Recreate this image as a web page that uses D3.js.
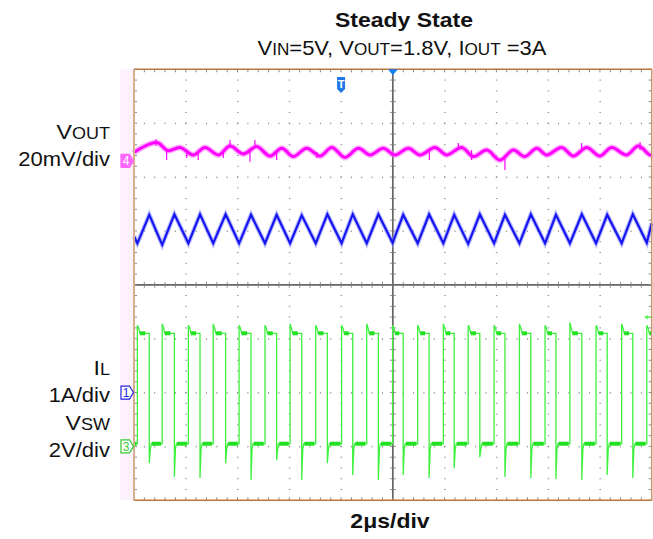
<!DOCTYPE html>
<html>
<head>
<meta charset="utf-8">
<script src="https://cdn.jsdelivr.net/npm/d3@7/dist/d3.min.js"></script>
<style>
  body { margin: 0; background: #fff; }
  text { font-family: "Liberation Sans", Arial, sans-serif; fill: #111; }
</style>
</head>
<body>
<div id="chart"></div>
<script>
// time in us (2us/div, trigger at centre), levels per channel units
var riseT = [-9.87, -8.91, -7.90, -6.94, -5.94, -4.94, -3.97, -2.98, -1.98, -1.01, -0.01,
             0.96, 1.95, 2.91, 3.91, 4.89, 5.88, 6.84, 7.85, 8.84, 9.81];
var fallT = [-9.41, -8.44, -7.45, -6.46, -5.48, -4.49, -3.52, -2.53, -1.55, -0.56,
             0.40, 1.40, 2.37, 3.36, 4.33, 5.33, 6.30, 7.30, 8.28, 9.27];

// V_SW (V)
var swHigh = 4.2, swLow = 0.1;
var swOvershoot = [4.5, 4.55, 4.5, 4.55, 4.5, 4.5, 4.55, 4.5, 4.5, 4.55, 4.5,
                   4.5, 4.55, 4.5, 4.5, 4.55, 4.5, 4.6, 4.5, 4.55, 4.5];
var swUndershoot = [-0.62, -1.13, -1.17, -0.62, -1.25, -0.51, -1.25, -0.62, -1.06, -1.25,
                    -1.06, -1.17, -0.80, -0.40, -1.13, -1.17, -1.21, -1.25, -1.06, -1.17];

// I_L (A): valleys at rising edges, peaks at falling edges
var ilValley = [2.77, 2.74, 2.77, 2.77, 2.77, 2.77, 2.77, 2.77, 2.77, 2.77, 2.78,
                2.77, 2.77, 2.76, 2.77, 2.77, 2.77, 2.77, 2.77, 2.77, 2.78];
var ilPeak = [3.30, 3.31, 3.31, 3.31, 3.30, 3.30, 3.29, 3.31, 3.31, 3.31,
              3.30, 3.31, 3.30, 3.31, 3.30, 3.31, 3.30, 3.31, 3.30, 3.31];
var ilEnds = [2.90, 3.14];

// V_OUT ripple (mV, relative to channel marker)
var voutT = [-10, -9.96, -9.12, -8.69, -8.22, -7.71, -7.26, -6.74, -6.29, -5.78, -5.26, -4.75,
             -4.29, -3.85, -3.33, -2.81, -2.36, -1.85, -1.33, -0.88, -0.37, 0.08, 0.60,
             1.05, 1.63, 2.08, 2.66, 3.11, 3.63, 4.14, 4.65, 5.10, 5.56, 5.94, 6.52,
             6.97, 7.49, 8.00, 8.45, 9.03, 9.48, 9.93, 10];
var voutMv = [3.0, 3.4, 6.8, 3.8, 5.0, 2.2, 5.0, 2.2, 5.5, 2.6, 5.3, 1.8,
              4.7, 1.6, 4.7, 1.8, 5.0, 1.3, 4.7, 2.2, 4.7, 2.2, 4.7,
              2.2, 5.0, 2.2, 5.0, 1.6, 4.0, 0.3, 4.0, 1.6, 4.7, 2.2, 5.0,
              1.8, 5.0, 1.8, 5.0, 2.2, 5.5, 2.2, 2.5];
// noise spikes: [t, mV from, mV to]
var voutSpikes = [[-9.15, 5.5, 8.0], [-8.74, 4.0, 0.3], [-7.96, 4.0, 1.1], [-7.52, 3.3, 0.3],
                  [-6.55, 3.3, 1.1], [-6.29, 4.8, 7.8], [-5.52, 4.0, -0.3], [-5.33, 4.8, 7.8],
                  [-4.49, 3.3, 0.3], [-2.94, 3.3, 1.1], [1.41, 4.0, 0.3], [2.53, 4.0, 6.6],
                  [3.04, 4.0, 0.3], [4.33, 2.2, -3.4], [7.29, 4.0, 6.6], [9.55, 4.0, 7.0]];

var channels = {
  vout: {offset: 2.3, perDiv: 20},
  il: {offset: -2, perDiv: 1},
  vsw: {offset: -3, perDiv: 2}
};

var W = 653, H = 539;
var svg = d3.select('#chart').append('svg').attr('width', W).attr('height', H);

var x = d3.scaleLinear().domain([-10, 10]).range([134, 651.7]);
var y = d3.scaleLinear().domain([-4, 4]).range([500.3, 69.3]);
function yc(ch, v) { return y(ch.offset + v / ch.perDiv); }

// pink strip left of the screen
svg.append('rect').attr('x', 120).attr('y', y(4)).attr('width', x(-10) - 120)
  .attr('height', y(-4) - y(4)).attr('fill', '#fdf1fb');

// grid dots
var g = svg.append('g');
var minorT = d3.range(-10, 10.001, 0.4);
var minorD = d3.range(-4, 4.001, 0.2);
d3.range(-4, 5).forEach(function(d) {
  if (d === 0 || d === 4 || d === -4) return;
  g.selectAll(null).data(minorT).enter().append('rect')
    .attr('x', function(t) { return x(t) - 0.5; }).attr('y', y(d) - 0.5)
    .attr('width', 1).attr('height', 1.5).attr('fill', '#8a8a8a');
});
d3.range(-10, 11, 2).forEach(function(t) {
  if (t === 0 || t === 10 || t === -10) return;
  g.selectAll(null).data(minorD).enter().append('rect')
    .attr('x', x(t) - 0.5).attr('y', function(d) { return y(d) - 0.5; })
    .attr('width', 1.5).attr('height', 1).attr('fill', '#8a8a8a');
});

// centre axes with minor ticks
g.append('line').attr('x1', x(-10)).attr('x2', x(10)).attr('y1', y(0)).attr('y2', y(0))
  .attr('stroke', '#666').attr('stroke-width', 1.8);
g.append('line').attr('x1', x(0)).attr('x2', x(0)).attr('y1', y(-4)).attr('y2', y(4))
  .attr('stroke', '#555').attr('stroke-width', 1.5);
g.selectAll(null).data(minorT).enter().append('line')
  .attr('x1', function(t) { return x(t); }).attr('x2', function(t) { return x(t); })
  .attr('y1', y(0) - 3).attr('y2', y(0) + 3).attr('stroke', '#777').attr('stroke-width', 0.8);
g.selectAll(null).data(minorD).enter().append('line')
  .attr('y1', function(d) { return y(d); }).attr('y2', function(d) { return y(d); })
  .attr('x1', x(0) - 3).attr('x2', x(0) + 3).attr('stroke', '#777').attr('stroke-width', 0.8);

// edge ticks
g.selectAll(null).data(minorT).enter().append('line')
  .attr('x1', function(t) { return x(t); }).attr('x2', function(t) { return x(t); })
  .attr('y1', y(4)).attr('y2', y(4) + 3).attr('stroke', '#888');
g.selectAll(null).data(minorT).enter().append('line')
  .attr('x1', function(t) { return x(t); }).attr('x2', function(t) { return x(t); })
  .attr('y1', y(-4)).attr('y2', y(-4) - 3).attr('stroke', '#888');
g.selectAll(null).data(minorD).enter().append('line')
  .attr('y1', function(d) { return y(d); }).attr('y2', function(d) { return y(d); })
  .attr('x1', x(-10)).attr('x2', x(-10) + 3).attr('stroke', '#888');
g.selectAll(null).data(minorD).enter().append('line')
  .attr('y1', function(d) { return y(d); }).attr('y2', function(d) { return y(d); })
  .attr('x1', x(10)).attr('x2', x(10) - 3).attr('stroke', '#888');

// ---- V_OUT trace
var vo = channels.vout;
var voLine = d3.line().x(function(d) { return x(d[0]); }).y(function(d) { return yc(vo, d[1]); })
  .curve(d3.curveCatmullRom);
var voData = voutT.map(function(t, i) { return [t, voutMv[i]]; });
svg.append('path').datum(voData).attr('d', voLine).attr('fill', 'none')
  .attr('stroke', '#ff7dff').attr('stroke-width', 6).attr('opacity', 0.6);
svg.append('path').datum(voData).attr('d', voLine).attr('fill', 'none')
  .attr('stroke', '#f0f').attr('stroke-width', 3);
svg.selectAll(null).data(voutSpikes).enter().append('line')
  .attr('x1', function(d) { return x(d[0]); }).attr('x2', function(d) { return x(d[0]); })
  .attr('y1', function(d) { return yc(vo, d[1]); }).attr('y2', function(d) { return yc(vo, d[2]); })
  .attr('stroke', '#f0f').attr('stroke-width', 1.2);

// ---- I_L trace
var il = channels.il;
var ilData = [[-10, ilEnds[0]]];
riseT.forEach(function(r, i) {
  ilData.push([r, ilValley[i]]);
  if (i < fallT.length) ilData.push([fallT[i], ilPeak[i]]);
});
ilData.push([10, ilEnds[1]]);
var ilLine = d3.line().x(function(d) { return x(d[0]); }).y(function(d) { return yc(il, d[1]); });
svg.append('path').datum(ilData).attr('d', ilLine).attr('fill', 'none')
  .attr('stroke', '#8a8aff').attr('stroke-width', 4.5).attr('opacity', 0.55);
svg.append('path').datum(ilData).attr('d', ilLine).attr('fill', 'none')
  .attr('stroke', '#1515f0').attr('stroke-width', 2.2);

// ---- V_SW trace
var sw = channels.vsw;
var swData = [[-10, swLow]];
riseT.forEach(function(r, i) {
  swData.push([r, swLow], [r, swOvershoot[i]], [r + 0.05, swHigh + 0.2], [r + 0.1, swHigh]);
  if (i < fallT.length) {
    var f = fallT[i];
    swData.push([f, swHigh], [f, swUndershoot[i]], [f + 0.04, swLow - 0.2], [f + 0.08, swLow]);
  }
});
swData.push([10, swHigh]);
var swLine = d3.line().x(function(d) { return x(d[0]); }).y(function(d) { return yc(sw, d[1]); });
svg.append('path').datum(swData).attr('d', swLine).attr('fill', 'none')
  .attr('stroke', '#3ef03e').attr('stroke-width', 1.3);
// thick plateaus
var highSeg = riseT.map(function(r, i) { return [r + 0.1, i < fallT.length ? fallT[i] - 0.15 : 10]; });
var lowSeg = fallT.map(function(f, i) { return [f + 0.1, riseT[i + 1] - 0.05]; });
lowSeg.unshift([-10, riseT[0] - 0.03]);
svg.selectAll(null).data(highSeg).enter().append('line')
  .attr('x1', function(d) { return x(d[0]); }).attr('x2', function(d) { return x(d[1]); })
  .attr('y1', yc(sw, swHigh)).attr('y2', yc(sw, swHigh))
  .attr('stroke', '#22e022').attr('stroke-width', 4);
svg.selectAll(null).data(lowSeg).enter().append('line')
  .attr('x1', function(d) { return x(d[0]); }).attr('x2', function(d) { return x(d[1]); })
  .attr('y1', yc(sw, swLow)).attr('y2', yc(sw, swLow))
  .attr('stroke', '#22e022').attr('stroke-width', 4);

// frame
svg.append('line').attr('x1', x(-10)).attr('x2', x(10)).attr('y1', y(4)).attr('y2', y(4))
  .attr('stroke', '#b8763e').attr('stroke-width', 1.5);
svg.append('line').attr('x1', x(-10)).attr('x2', x(10)).attr('y1', y(-4)).attr('y2', y(-4))
  .attr('stroke', '#b8763e').attr('stroke-width', 1.5);
svg.append('line').attr('x1', x(-10)).attr('x2', x(-10)).attr('y1', y(4)).attr('y2', y(-4))
  .attr('stroke', '#d6b090').attr('stroke-width', 2);
svg.append('line').attr('x1', x(10)).attr('x2', x(10)).attr('y1', y(4)).attr('y2', y(-4))
  .attr('stroke', '#c9956a').attr('stroke-width', 1.5);

// trigger markers
svg.append('path').attr('d', d3.line()([[x(0) - 5, y(4)], [x(0) + 5, y(4)], [x(0), y(4) + 6]]) + 'Z')
  .attr('fill', '#1a7ff0');
var tx = x(-2.0), ty = 77;
svg.append('path').attr('d', d3.line()([[tx - 4, ty], [tx + 4, ty], [tx + 4, ty + 12], [tx, ty + 16], [tx - 4, ty + 12]]) + 'Z')
  .attr('fill', '#1f78e6');
svg.append('text').attr('x', tx).attr('y', ty + 11).attr('text-anchor', 'middle')
  .style('font-size', '11px').style('font-weight', 'bold').style('fill', '#fff').text('T');
var ay = yc(sw, 4.8);
svg.append('path').attr('d', d3.line()([[x(10) - 1, ay], [x(10) - 7, ay]])).attr('stroke', '#55f055').attr('stroke-width', 1.3);
svg.append('path').attr('d', d3.line()([[x(10) - 7, ay], [x(10) - 4, ay - 2.5], [x(10) - 4, ay + 2.5]]) + 'Z').attr('fill', '#55f055');

// channel tags
function tag(yy, label, stroke, fill, txt) {
  var x0 = 121;
  svg.append('path').attr('d', d3.line()([[x0, yy - 6.5], [x0 + 8.5, yy - 6.5], [x0 + 12.5, yy], [x0 + 8.5, yy + 6.5], [x0, yy + 6.5]]) + 'Z')
    .attr('fill', fill).attr('stroke', stroke).attr('stroke-width', 1.2);
  svg.append('text').attr('x', x0 + 5).attr('y', yy + 4.5).attr('text-anchor', 'middle')
    .style('font-size', '12px').style('fill', txt).text(label);
}
tag(yc(vo, 0), '4', '#ff66ff', '#ff66ff', '#fff');
tag(yc(il, 0), '1', '#2222dd', '#fff', '#2222dd');
tag(yc(sw, 0), '3', '#33cc33', '#fff', '#33cc33');

// text
function label(xx, yy, parts, size, anchor, weight, sx) {
  var t = svg.append('text').attr('text-anchor', anchor)
    .attr('transform', 'translate(' + xx + ',' + yy + ') scale(' + sx + ',1)')
    .style('font-size', size + 'px').style('font-weight', weight || 'normal');
  parts.forEach(function(p) {
    var s = t.append('tspan').text(p[0]);
    if (p[1]) s.style('font-size', (size * 0.78) + 'px');
  });
  return t;
}
label(404, 27, [['Steady State']], 20, 'middle', 'bold', 1.15);
label(402, 55, [['V'], ['IN', 1], ['=5V, V'], ['OUT', 1], ['=1.8V, I'], ['OUT', 1], [' =3A']], 20, 'middle', 'normal', 1.1);
label(110, 139, [['V'], ['OUT', 1]], 21, 'end', 'normal', 1.1);
label(110, 166, [['20mV/div']], 20, 'end', 'normal', 1.1);
label(110, 375, [['I'], ['L', 1]], 21, 'end', 'normal', 1.1);
label(110, 402, [['1A/div']], 20, 'end', 'normal', 1.1);
label(110, 430, [['V'], ['SW', 1]], 21, 'end', 'normal', 1.1);
label(110, 457, [['2V/div']], 20, 'end', 'normal', 1.1);
label(390, 528, [['2\u03bcs/div']], 20, 'middle', 'bold', 1.15);
</script>
</body>
</html>
